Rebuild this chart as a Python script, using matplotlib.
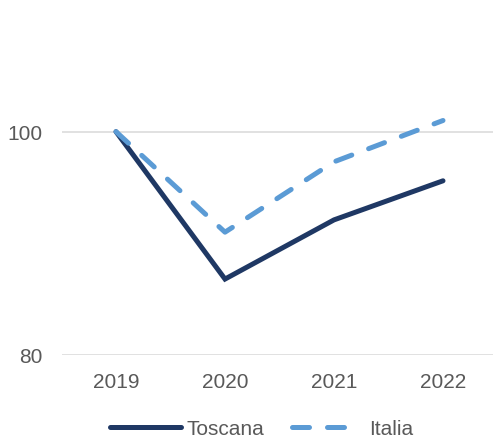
import matplotlib
matplotlib.use("Agg")
import matplotlib.pyplot as plt

years = ["2019", "2020", "2021", "2022"]
toscana = [100.0, 86.8, 92.1, 95.6]
italia = [100.0, 91.0, 97.3, 101.0]
y_ticks = [80, 100]

plt.rcParams["font.family"] = ["Liberation Sans", "DejaVu Sans"]
text_color = "#595959"

fig = plt.figure(figsize=(4.93, 4.39), dpi=100)
ax = fig.add_axes([61.5 / 493, (439 - 356) / 439, 436 / 493, 335 / 439])

x = range(len(years))
ax.plot(x, toscana, color="#1F3864", lw=3.6, solid_capstyle="round",
        solid_joinstyle="miter", label="Toscana", zorder=3)
ax.plot(x, italia, color="#5B9BD5", lw=3.6, dashes=(3.4, 3.6),
        dash_capstyle="round", label="Italia", zorder=3)

ax.set_xlim(-0.5, len(years) - 0.5)
ax.set_ylim(80, 110)
ax.set_xticks(list(x))
ax.set_xticklabels(years)
ax.set_yticks(y_ticks)
ax.tick_params(axis="both", length=0, labelsize=15, colors=text_color)
ax.tick_params(axis="y", pad=13.5)
ax.tick_params(axis="x", pad=12)
ax.grid(axis="y", color="#D9D9D9", lw=1.1)
ax.set_axisbelow(True)
for s in ax.spines.values():
    s.set_visible(False)

leg = fig.legend(loc="center", bbox_to_anchor=(0.53, 0.022), ncol=2,
                 frameon=False, fontsize=15, handlelength=3.4,
                 handletextpad=0.3, columnspacing=1.3)
for t in leg.get_texts():
    t.set_color(text_color)

fig.savefig("out.png", dpi=100)
